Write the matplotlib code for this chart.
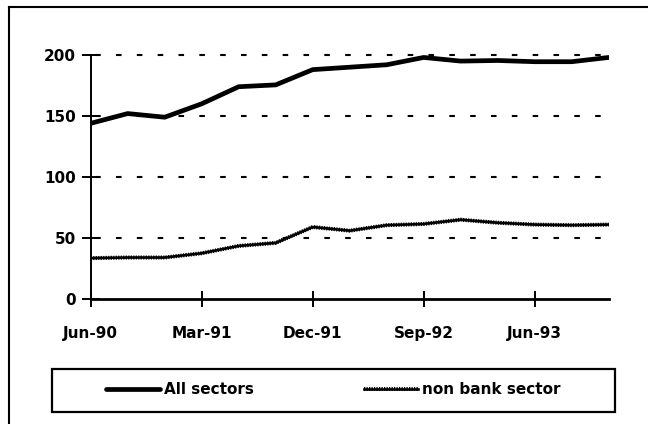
import matplotlib
matplotlib.use("Agg")
import matplotlib.pyplot as plt
from matplotlib.lines import Line2D
from matplotlib.patches import Rectangle

plt.rcParams["font.family"] = ["DejaVu Sans"]
plt.rcParams["font.weight"] = "bold"
plt.rcParams["lines.scale_dashes"] = False

# Quarterly observations, Jun-90 to Dec-93
quarters = ["Jun-90", "Sep-90", "Dec-90", "Mar-91", "Jun-91", "Sep-91", "Dec-91",
            "Mar-92", "Jun-92", "Sep-92", "Dec-92", "Mar-93", "Jun-93", "Sep-93", "Dec-93"]
all_sectors = [144, 152, 149, 160, 174, 175.5, 188, 190, 192, 198, 195, 195.5, 194.5, 194.5, 198]
non_bank = [33.5, 34, 34, 37.5, 43.5, 46, 59, 56, 60.5, 61.5, 65, 62.5, 61, 60.5, 61]
y_ticks = [0, 50, 100, 150, 200]
label_step = 3

W, H = 648, 424
fig = plt.figure(figsize=(W / 100, H / 100), dpi=100)
ax = fig.add_axes([90.7 / W, (H - 299) / H, 518 / W, 244 / H])

x = list(range(len(quarters)))
all_line, = ax.plot(x, all_sectors, color="black", lw=3.4, solid_capstyle="round",
                    solid_joinstyle="round", zorder=3)
# textured line: solid core with a fine dotted fringe
nb_core, = ax.plot(x, non_bank, color="black", lw=1.9, zorder=3)
nb_fringe, = ax.plot(x, non_bank, color="black", lw=2.9, linestyle=(0, (0.9, 0.9)),
                     zorder=3)

ax.set_xlim(0, len(quarters) - 1)
ax.set_ylim(0, 200)

ax.set_xticks(x[::label_step])
ax.set_xticklabels(quarters[::label_step])
ax.set_yticks(y_ticks)

for v in y_ticks[1:]:
    ax.axhline(v, color="black", lw=1.5, linestyle=(12, (4, 11)), zorder=1,
               clip_on=False)

for side in ("top", "right"):
    ax.spines[side].set_visible(False)
ax.spines["left"].set_linewidth(1.4)
ax.spines["bottom"].set_linewidth(2.0)

ax.tick_params(axis="x", direction="inout", length=11, width=1.4, pad=14,
               labelsize=11)
ax.tick_params(axis="y", direction="inout", length=13, width=1.4, pad=4,
               labelsize=11)
for t in ax.get_xticklabels() + ax.get_yticklabels():
    t.set_fontweight("bold")
for tk in ax.yaxis.get_major_ticks() + ax.xaxis.get_major_ticks():
    tk.tick1line.set_clip_on(False)

# Outer frame (top and left edges)
fig.add_artist(Line2D([9 / W, 1], [1 - 7 / H, 1 - 7 / H], transform=fig.transFigure,
                      color="black", lw=1.5))
fig.add_artist(Line2D([9 / W, 9 / W], [0, 1 - 7 / H], transform=fig.transFigure,
                      color="black", lw=1.5))

# Legend box
fig.add_artist(Rectangle((52 / W, (H - 412) / H), (615 - 52) / W, (412 - 369) / H,
                         transform=fig.transFigure, fill=False, edgecolor="black",
                         lw=1.6))
fig.legend([all_line, (nb_core, nb_fringe)], ["All sectors", "non bank sector"],
           ncol=2, loc="center",
           bbox_to_anchor=(333.5 / W, (H - 390) / H), frameon=False,
           prop={"size": 11, "weight": "bold"}, handlelength=3.5,
           handletextpad=0.3, columnspacing=7.2)

fig.savefig("out.png", dpi=100)
